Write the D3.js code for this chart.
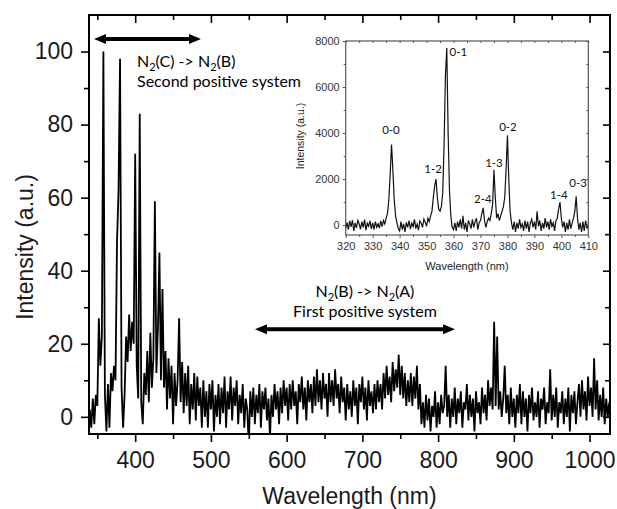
<!DOCTYPE html>
<html>
<head>
<meta charset="utf-8">
<script src="https://cdn.jsdelivr.net/npm/d3@7"></script>
<style>
  body { margin: 0; background: #fff; }
  text { font-family: "Liberation Sans", Arial, sans-serif; }
  .note { font-family: Lato, "Open Sans", sans-serif; }
</style>
</head>
<body>
<div id="mydiv"></div>
<script>
// main spectrum, 340 nm .. 1026 nm every 2 nm
var mainStart = 340;
var mainStep = 2;
var mainIntensity = [
  2, -3, 5, -2, 6, 3, 27, 14, 22, 100,
  6, -4, 9, -3, 12, 7, 14, 10, 48, 62,
  98, 8, -3, 6, 22, 15, 28, 18, 26, 20,
  72, 14, 5, 83, 4, -2, 12, 6, 18, 4,
  23, 8, 16, 59, 12, 24, 45, 10, 35, 8,
  18, 2, 16, 5, 14, -2, 12, 3, 10, 27,
  4, 15, 1, 12, 3, 14, -2, 9, 2, 12,
  -1, 11, 3, 8, -3, 10, 0, 7, -3, 9,
  2, 10, -4, 6, 0, 9, -2, 8, 1, 11,
  -3, 7, 2, 11, -1, 8, 3, 10, -2, 6,
  1, 9, -3, 5, 2, -8, 7, 0, 8, -2,
  6, 1, 9, -3, 7, 2, 8, -1, 5, -6,
  6, 0, 9, 2, 7, -2, 8, 1, 10, 3,
  8, -1, 9, 2, 10, 3, 7, -2, 9, 4,
  11, 2, 8, -1, 10, 4, 9, 1, 11, 3,
  13, 4, 10, 2, 12, 5, 9, 0, 12, 4,
  10, 3, 13, 5, 9, 1, 11, 4, 8, -1,
  9, 2, 7, 0, 10, 3, 8, -2, 9, 4,
  11, 2, 8, -1, 10, 3, 7, 1, 9, 2,
  10, 4, 9, 2, 12, 5, 14, 6, 11, 4,
  15, 7, 13, 8, 17, 6, 14, 5, 12, 3,
  10, 4, 12, 3, 11, 5, 14, 2, 9, -2,
  4, -3, 6, -1, 5, -4, 3, 0, 7, -3,
  4, -2, 6, 1, 3, 14, 0, 6, -3, 5,
  0, 8, -2, 5, 1, 7, -3, 4, 2, 9,
  -1, 6, 0, 5, -4, 7, 1, 4, -2, 8,
  1, 6, -1, 10, 3, 8, 2, 26, 3, 22,
  2, 7, 0, 5, 14, 1, 6, -2, 8, 0,
  5, -3, 6, 1, 9, -2, 7, 0, 5, -4,
  6, 1, 8, -1, 4, 0, 7, -3, 5, 2,
  8, -2, 4, 1, 13, -1, 6, 0, 8, -3,
  4, 1, 7, -2, 5, 0, 8, -4, 6, 1,
  7, -2, 4, 9, 0, 10, 2, 7, -1, 11,
  3, 8, 0, 16, 2, 10, -1, 6, 0, 8,
  -2, 5, 0, 4
];
var mainXTicks = [400, 500, 600, 700, 800, 900, 1000];
var mainXMinor = [350, 450, 550, 650, 750, 850, 950];
var mainYTicks = [0, 20, 40, 60, 80, 100];
var mainYMinor = [10, 30, 50, 70, 90];

// inset spectrum, 320 nm .. 410 nm every 0.5 nm
var insetStart = 320;
var insetStep = 0.5;
var insetIntensity = [
  -150, 120, -200, 180, -80, 220, -250, 100, -120, 200, 50, -180, 150, -100, 240, -220, 80, -50, 190, -160,
  100, -200, 150, -90, 60, -130, 180, -70, 200, 50, 300, 500, 1100, 2200, 3500, 2400, 1100, 400, 100, -150,
  -250, 150, -200, 60, -300, 120, -100, 200, -180, 90, -60, 250, -150, 40, -220, 180, 80, -100, 260, 120,
  -50, 300, 150, 400, 600, 1200, 1700, 2000, 1200, 700, 600, 800, 1400, 3500, 6500, 7700, 4000, 1500, 400, -100,
  -200, 100, -250, 150, -100, 250, -150, 400, -200, 100, -300, 200, 50, -150, 250, -100, 150, 300, -200, 100,
  200, 500, 750, 200, -100, 150, 300, 200, 500, 900, 2400, 1200, 300, 500, 200, 400, 600, 800, 1200, 2400,
  3900, 2000, 600, 100, -200, 150, -300, 100, -150, 250, -100, 50, -250, 200, -150, 150, -300, 100, 250, -100,
  150, -200, 600, -50, 200, -250, 100, -150, 300, -100, 150, -200, 250, -50, 100, -250, 200, 300, 700, 1000,
  300, -100, 150, -300, 100, -200, 250, -150, 100, 300, 600, 1250, 300, -200, 100, -300, 150, -250, 200, -150,
  50
];
var insetXTicks = [320, 330, 340, 350, 360, 370, 380, 390, 400, 410];
var insetXMinor = [325, 335, 345, 355, 365, 375, 385, 395, 405];
var insetYTicks = [0, 2000, 4000, 6000, 8000];
var insetYMinor = [1000, 3000, 5000, 7000];
var peakNames = ["0-0", "1-2", "0-1", "2-4", "1-3", "0-2", "1-4", "0-3"];
var peakLabelWl = [336.8, 352.4, 361.8, 370.9, 375.0, 380.2, 399.1, 406.2];
var peakLabelVal = [3940, 2280, 7350, 970, 2540, 4070, 1145, 1670];

var W = 617, H = 509;
var svg = d3.select("#mydiv").append("svg")
  .attr("width", W)
  .attr("height", H);

// ---------- main plot ----------
var mL = 89, mR = 610, mT = 15, mB = 434;
var x = d3.scaleLinear().domain([339, 1027]).range([mL, mR]);
var y = d3.scaleLinear().domain([-4.7, 110]).range([mB, mT]);

svg.append("clipPath").attr("id", "mainclip")
  .append("rect")
  .attr("x", mL).attr("y", mT)
  .attr("width", mR - mL).attr("height", mB - mT);

var mainLine = d3.line()
  .x(function(d, i) { return x(mainStart + i * mainStep); })
  .y(function(d) { return y(d); });

svg.append("path")
  .datum(mainIntensity)
  .attr("clip-path", "url(#mainclip)")
  .attr("d", mainLine)
  .style("fill", "none")
  .style("stroke", "#000")
  .style("stroke-width", 1.8)
  .style("stroke-linejoin", "miter");

function styleAxis(g, size) {
  g.select(".domain").remove();
  g.selectAll("line").style("stroke", "#000").style("stroke-width", 1.6);
  g.selectAll("text").style("font-size", size + "px").style("fill", "#1a1a1a")
    .style("font-family", "'Liberation Sans', Arial, sans-serif");
}

// bottom
svg.append("g").attr("transform", "translate(0," + mB + ")")
  .call(d3.axisBottom(x).tickValues(mainXTicks).tickSize(8).tickPadding(10).tickFormat(d3.format("d")))
  .call(styleAxis, 23);
svg.append("g").attr("transform", "translate(0," + mB + ")")
  .call(d3.axisBottom(x).tickValues(mainXMinor).tickSize(5).tickFormat(""))
  .call(styleAxis, 23);
// top (inward)
svg.append("g").attr("transform", "translate(0," + mT + ")")
  .call(d3.axisBottom(x).tickValues(mainXTicks).tickSize(8).tickFormat(""))
  .call(styleAxis, 23);
svg.append("g").attr("transform", "translate(0," + mT + ")")
  .call(d3.axisBottom(x).tickValues(mainXMinor).tickSize(5).tickFormat(""))
  .call(styleAxis, 23);
// left
svg.append("g").attr("transform", "translate(" + mL + ",0)")
  .call(d3.axisLeft(y).tickValues(mainYTicks).tickSize(8).tickPadding(8).tickFormat(d3.format("d")))
  .call(styleAxis, 23);
svg.append("g").attr("transform", "translate(" + mL + ",0)")
  .call(d3.axisLeft(y).tickValues(mainYMinor).tickSize(5).tickFormat(""))
  .call(styleAxis, 23);
// right (inward)
svg.append("g").attr("transform", "translate(" + mR + ",0)")
  .call(d3.axisLeft(y).tickValues(mainYTicks).tickSize(7).tickFormat(""))
  .call(styleAxis, 23);
svg.append("g").attr("transform", "translate(" + mR + ",0)")
  .call(d3.axisLeft(y).tickValues(mainYMinor).tickSize(5).tickFormat(""))
  .call(styleAxis, 23);

svg.append("rect")
  .attr("x", mL).attr("y", mT)
  .attr("width", mR - mL).attr("height", mB - mT)
  .style("fill", "none")
  .style("stroke", "#000")
  .style("stroke-width", 2);

svg.append("text")
  .attr("x", (mL + mR) / 2)
  .attr("y", 504)
  .attr("text-anchor", "middle")
  .style("font-size", "23px")
  .style("fill", "#1a1a1a")
  .text("Wavelength (nm)");

svg.append("text")
  .attr("transform", "translate(33,247) rotate(-90)")
  .attr("text-anchor", "middle")
  .style("font-size", "23px")
  .style("fill", "#1a1a1a")
  .text("Intensity (a.u.)");

// ---------- annotations ----------
function doubleArrow(x1, x2, yy) {
  var hl = 12, hw = 5, t = 2;
  var p = d3.path();
  p.moveTo(x1, yy);
  p.lineTo(x1 + hl, yy - hw);
  p.lineTo(x1 + hl, yy - t);
  p.lineTo(x2 - hl, yy - t);
  p.lineTo(x2 - hl, yy - hw);
  p.lineTo(x2, yy);
  p.lineTo(x2 - hl, yy + hw);
  p.lineTo(x2 - hl, yy + t);
  p.lineTo(x1 + hl, yy + t);
  p.lineTo(x1 + hl, yy + hw);
  p.closePath();
  svg.append("path").attr("d", p.toString()).style("fill", "#000");
}

function stateLabel(xx, yy, upper, lower, anchor) {
  var t = svg.append("text").attr("class", "note")
    .attr("x", xx).attr("y", yy)
    .attr("text-anchor", anchor)
    .style("font-size", "16px");
  t.append("tspan").text("N");
  t.append("tspan").attr("dy", 4).style("font-size", "11px").text("2");
  t.append("tspan").attr("dy", -4).text("(" + upper + ") -> N");
  t.append("tspan").attr("dy", 4).style("font-size", "11px").text("2");
  t.append("tspan").attr("dy", -4).text("(" + lower + ")");
}

doubleArrow(x(345.6), x(486.9), y(103.4));
stateLabel(x(402.4), y(95.9), "C", "B", "start");
svg.append("text").attr("class", "note")
  .attr("x", x(402.4)).attr("y", y(90.4))
  .style("font-size", "16px")
  .text("Second positive system");

doubleArrow(x(558.2), x(822.3), y(24.0));
stateLabel(x(703.4), y(32.8), "B", "A", "middle");
svg.append("text").attr("class", "note")
  .attr("x", x(703.4)).attr("y", y(27.4))
  .attr("text-anchor", "middle")
  .style("font-size", "16px")
  .text("First positive system");

// ---------- inset ----------
var iL = 345.7, iR = 588.3, iT = 41, iB = 235;
var ix = d3.scaleLinear().domain([320, 410]).range([iL, iR]);
var iy = d3.scaleLinear().domain([-430, 8000]).range([iB, iT]);

svg.append("rect")
  .attr("x", iL).attr("y", iT)
  .attr("width", iR - iL).attr("height", iB - iT)
  .style("fill", "#fff");

svg.append("clipPath").attr("id", "insetclip")
  .append("rect")
  .attr("x", iL).attr("y", iT)
  .attr("width", iR - iL).attr("height", iB - iT);

var insetLine = d3.line()
  .x(function(d, i) { return ix(insetStart + i * insetStep); })
  .y(function(d) { return iy(d); });

svg.append("path")
  .datum(insetIntensity)
  .attr("clip-path", "url(#insetclip)")
  .attr("d", insetLine)
  .style("fill", "none")
  .style("stroke", "#111")
  .style("stroke-width", 1.2);

function styleInset(g) {
  g.select(".domain").remove();
  g.selectAll("line").style("stroke", "#555").style("stroke-width", 1);
  g.selectAll("text").style("font-size", "11px").style("fill", "#333")
    .style("font-family", "'Liberation Sans', Arial, sans-serif");
}

svg.append("g").attr("transform", "translate(0," + iB + ")")
  .call(d3.axisBottom(ix).tickValues(insetXTicks).tickSize(3).tickPadding(4).tickFormat(d3.format("d")))
  .call(styleInset);
svg.append("g").attr("transform", "translate(0," + iB + ")")
  .call(d3.axisBottom(ix).tickValues(insetXMinor).tickSize(2).tickFormat(""))
  .call(styleInset);
svg.append("g").attr("transform", "translate(0," + iT + ")")
  .call(d3.axisBottom(ix).tickValues(insetXTicks.concat(insetXMinor)).tickSize(2).tickFormat(""))
  .call(styleInset);
svg.append("g").attr("transform", "translate(" + iL + ",0)")
  .call(d3.axisLeft(iy).tickValues(insetYTicks).tickSize(3).tickPadding(3).tickFormat(d3.format("d")))
  .call(styleInset);
svg.append("g").attr("transform", "translate(" + iL + ",0)")
  .call(d3.axisLeft(iy).tickValues(insetYMinor).tickSize(2).tickFormat(""))
  .call(styleInset);
svg.append("g").attr("transform", "translate(" + iR + ",0)")
  .call(d3.axisLeft(iy).tickValues(insetYTicks.concat(insetYMinor)).tickSize(2).tickFormat(""))
  .call(styleInset);

svg.append("rect")
  .attr("x", iL).attr("y", iT)
  .attr("width", iR - iL).attr("height", iB - iT)
  .style("fill", "none")
  .style("stroke", "#555")
  .style("stroke-width", 1.2);

svg.append("text")
  .attr("x", (iL + iR) / 2)
  .attr("y", 270)
  .attr("text-anchor", "middle")
  .style("font-size", "11px")
  .style("fill", "#222")
  .text("Wavelength (nm)");

svg.append("text")
  .attr("transform", "translate(304," + ((iT + iB) / 2 - 2) + ") rotate(-90)")
  .attr("text-anchor", "middle")
  .style("font-size", "10.5px")
  .style("fill", "#222")
  .text("Intensity (a.u.)");

svg.selectAll(".peak")
  .data(peakNames)
  .enter().append("text")
  .attr("class", "note peak")
  .attr("x", function(d, i) { return ix(peakLabelWl[i]); })
  .attr("y", function(d, i) { return iy(peakLabelVal[i]); })
  .attr("text-anchor", "middle")
  .style("font-size", "11.5px")
  .style("fill", "#111")
  .text(function(d) { return d; });
</script>
</body>
</html>
